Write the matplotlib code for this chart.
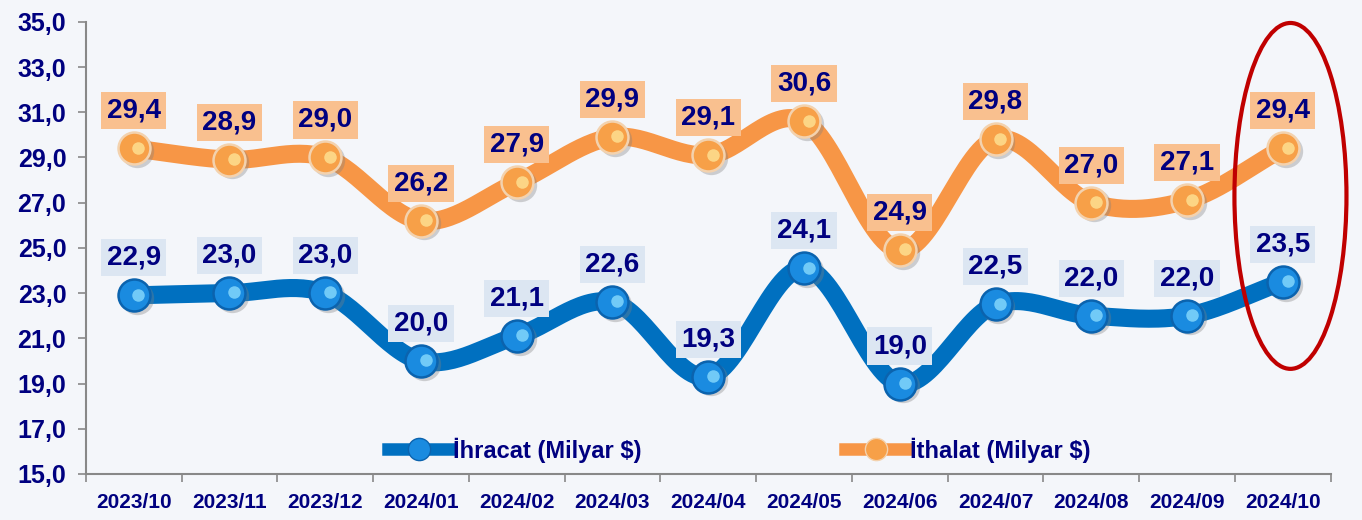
import numpy as np
import matplotlib
matplotlib.use("Agg")
import matplotlib.pyplot as plt
from matplotlib.patches import Ellipse
from matplotlib.ticker import FuncFormatter, FixedLocator

months = ["2023/10", "2023/11", "2023/12", "2024/01", "2024/02", "2024/03", "2024/04",
          "2024/05", "2024/06", "2024/07", "2024/08", "2024/09", "2024/10"]
ihracat = [22.9, 23.0, 23.0, 20.0, 21.1, 22.6, 19.3, 24.1, 19.0, 22.5, 22.0, 22.0, 23.5]
ithalat = [29.4, 28.9, 29.0, 26.2, 27.9, 29.9, 29.1, 30.6, 24.9, 29.8, 27.0, 27.1, 29.4]

navy = "#000080"
blue = "#0070C0"
orange = "#F79646"

plt.rcParams['font.family'] = ['Liberation Sans', 'DejaVu Sans']


def smooth(x, y, n=30):
    # catmull-rom curve through the points, like Excel's smoothed line
    x = np.asarray(x, float)
    y = np.asarray(y, float)
    px = np.concatenate([[2 * x[0] - x[1]], x, [2 * x[-1] - x[-2]]])
    py = np.concatenate([[2 * y[0] - y[1]], y, [2 * y[-1] - y[-2]]])
    xs, ys = [], []
    t = np.linspace(0, 1, n, endpoint=False)
    for i in range(1, len(px) - 2):
        for p, out in ((px, xs), (py, ys)):
            p0, p1, p2, p3 = p[i - 1], p[i], p[i + 1], p[i + 2]
            out.extend(0.5 * ((2 * p1) + (-p0 + p2) * t
                              + (2 * p0 - 5 * p1 + 4 * p2 - p3) * t ** 2
                              + (-p0 + 3 * p1 - 3 * p2 + p3) * t ** 3))
    xs.append(x[-1])
    ys.append(y[-1])
    return np.array(xs), np.array(ys)


fig = plt.figure(figsize=(13.62, 5.2), dpi=100, facecolor="#F4F6FA")
ax = fig.add_axes([0.063, 0.0885, 0.914, 0.8695])
ax.set_facecolor("#F4F6FA")

x = np.arange(len(months))

series = [
    (ihracat, blue, "#1A8BE0", "#0B63AE", "#8FE0FF", "#DCE6F2", "İhracat (Milyar $)"),
    (ithalat, orange, "#F7A048", "#F3D2AE", "#FFE89A", "#F9C08F", "İthalat (Milyar $)"),
]

for vals, lc, mc, ec, hc, boxc, name in series:
    vals = np.array(vals)
    sx, sy = smooth(x, vals)
    ax.plot(sx, sy, color=lc, lw=13, solid_capstyle="round", zorder=2)
    # soft shadow, sphere, glossy spot
    ax.plot(x + 0.03, vals - 0.12, ls="none", marker="o", ms=24, mfc="#808080",
            mec="none", alpha=0.35, zorder=3)
    ax.plot(x, vals, ls="none", marker="o", ms=23, mfc=mc, mec=ec, mew=1.8, zorder=3)
    ax.plot(x + 0.05, vals + 0.03, ls="none", marker="o", ms=9,
            mfc=hc, mec="none", alpha=0.75, zorder=4)
    ax.plot([], [], color=lc, lw=9, marker="o", ms=16, mfc=mc, mec=ec, label=name)
    for xi, v in zip(x, vals):
        ax.annotate(f"{v:.1f}".replace(".", ","), (xi, v), xytext=(0, 27),
                    textcoords="offset points", ha="center", va="center",
                    fontsize=20, fontweight="bold", color=navy, zorder=5,
                    bbox=dict(boxstyle="square,pad=0.2", fc=boxc, ec="none"))

ax.add_patch(Ellipse((12.08, 27.3), 1.17, 15.3, fill=False, ec="#C00000", lw=3,
                     clip_on=False, zorder=6))

ax.set_xlim(-0.5, len(months) - 0.5)
ax.set_ylim(15, 35)
ax.set_yticks(np.arange(15, 35.1, 2))
ax.yaxis.set_major_formatter(FuncFormatter(lambda v, p: f"{v:.1f}".replace(".", ",")))
ax.set_xticks(x)
ax.set_xticklabels(months)
ax.xaxis.set_minor_locator(FixedLocator(np.arange(-0.5, len(months), 1)))
ax.tick_params(axis="x", which="major", length=0, pad=14, labelsize=15, labelcolor=navy)
ax.tick_params(axis="x", which="minor", length=6, color="#888888", width=1.2)
ax.tick_params(axis="y", length=6, color="#888888", width=1.2, pad=8,
               labelsize=18, labelcolor=navy)
for lab in ax.get_xticklabels() + ax.get_yticklabels():
    lab.set_fontweight("bold")

for s in ["top", "right"]:
    ax.spines[s].set_visible(False)
for s in ["left", "bottom"]:
    ax.spines[s].set_color("#888888")
    ax.spines[s].set_linewidth(1.5)

leg = ax.legend(loc="center", bbox_to_anchor=(0.525, 0.053), ncol=2, frameon=False,
                handlelength=2.6, handletextpad=0.15, columnspacing=8.6,
                prop=dict(size=17, weight="bold"))
for t in leg.get_texts():
    t.set_color(navy)

fig.savefig("out.png", dpi=100, facecolor=fig.get_facecolor())
